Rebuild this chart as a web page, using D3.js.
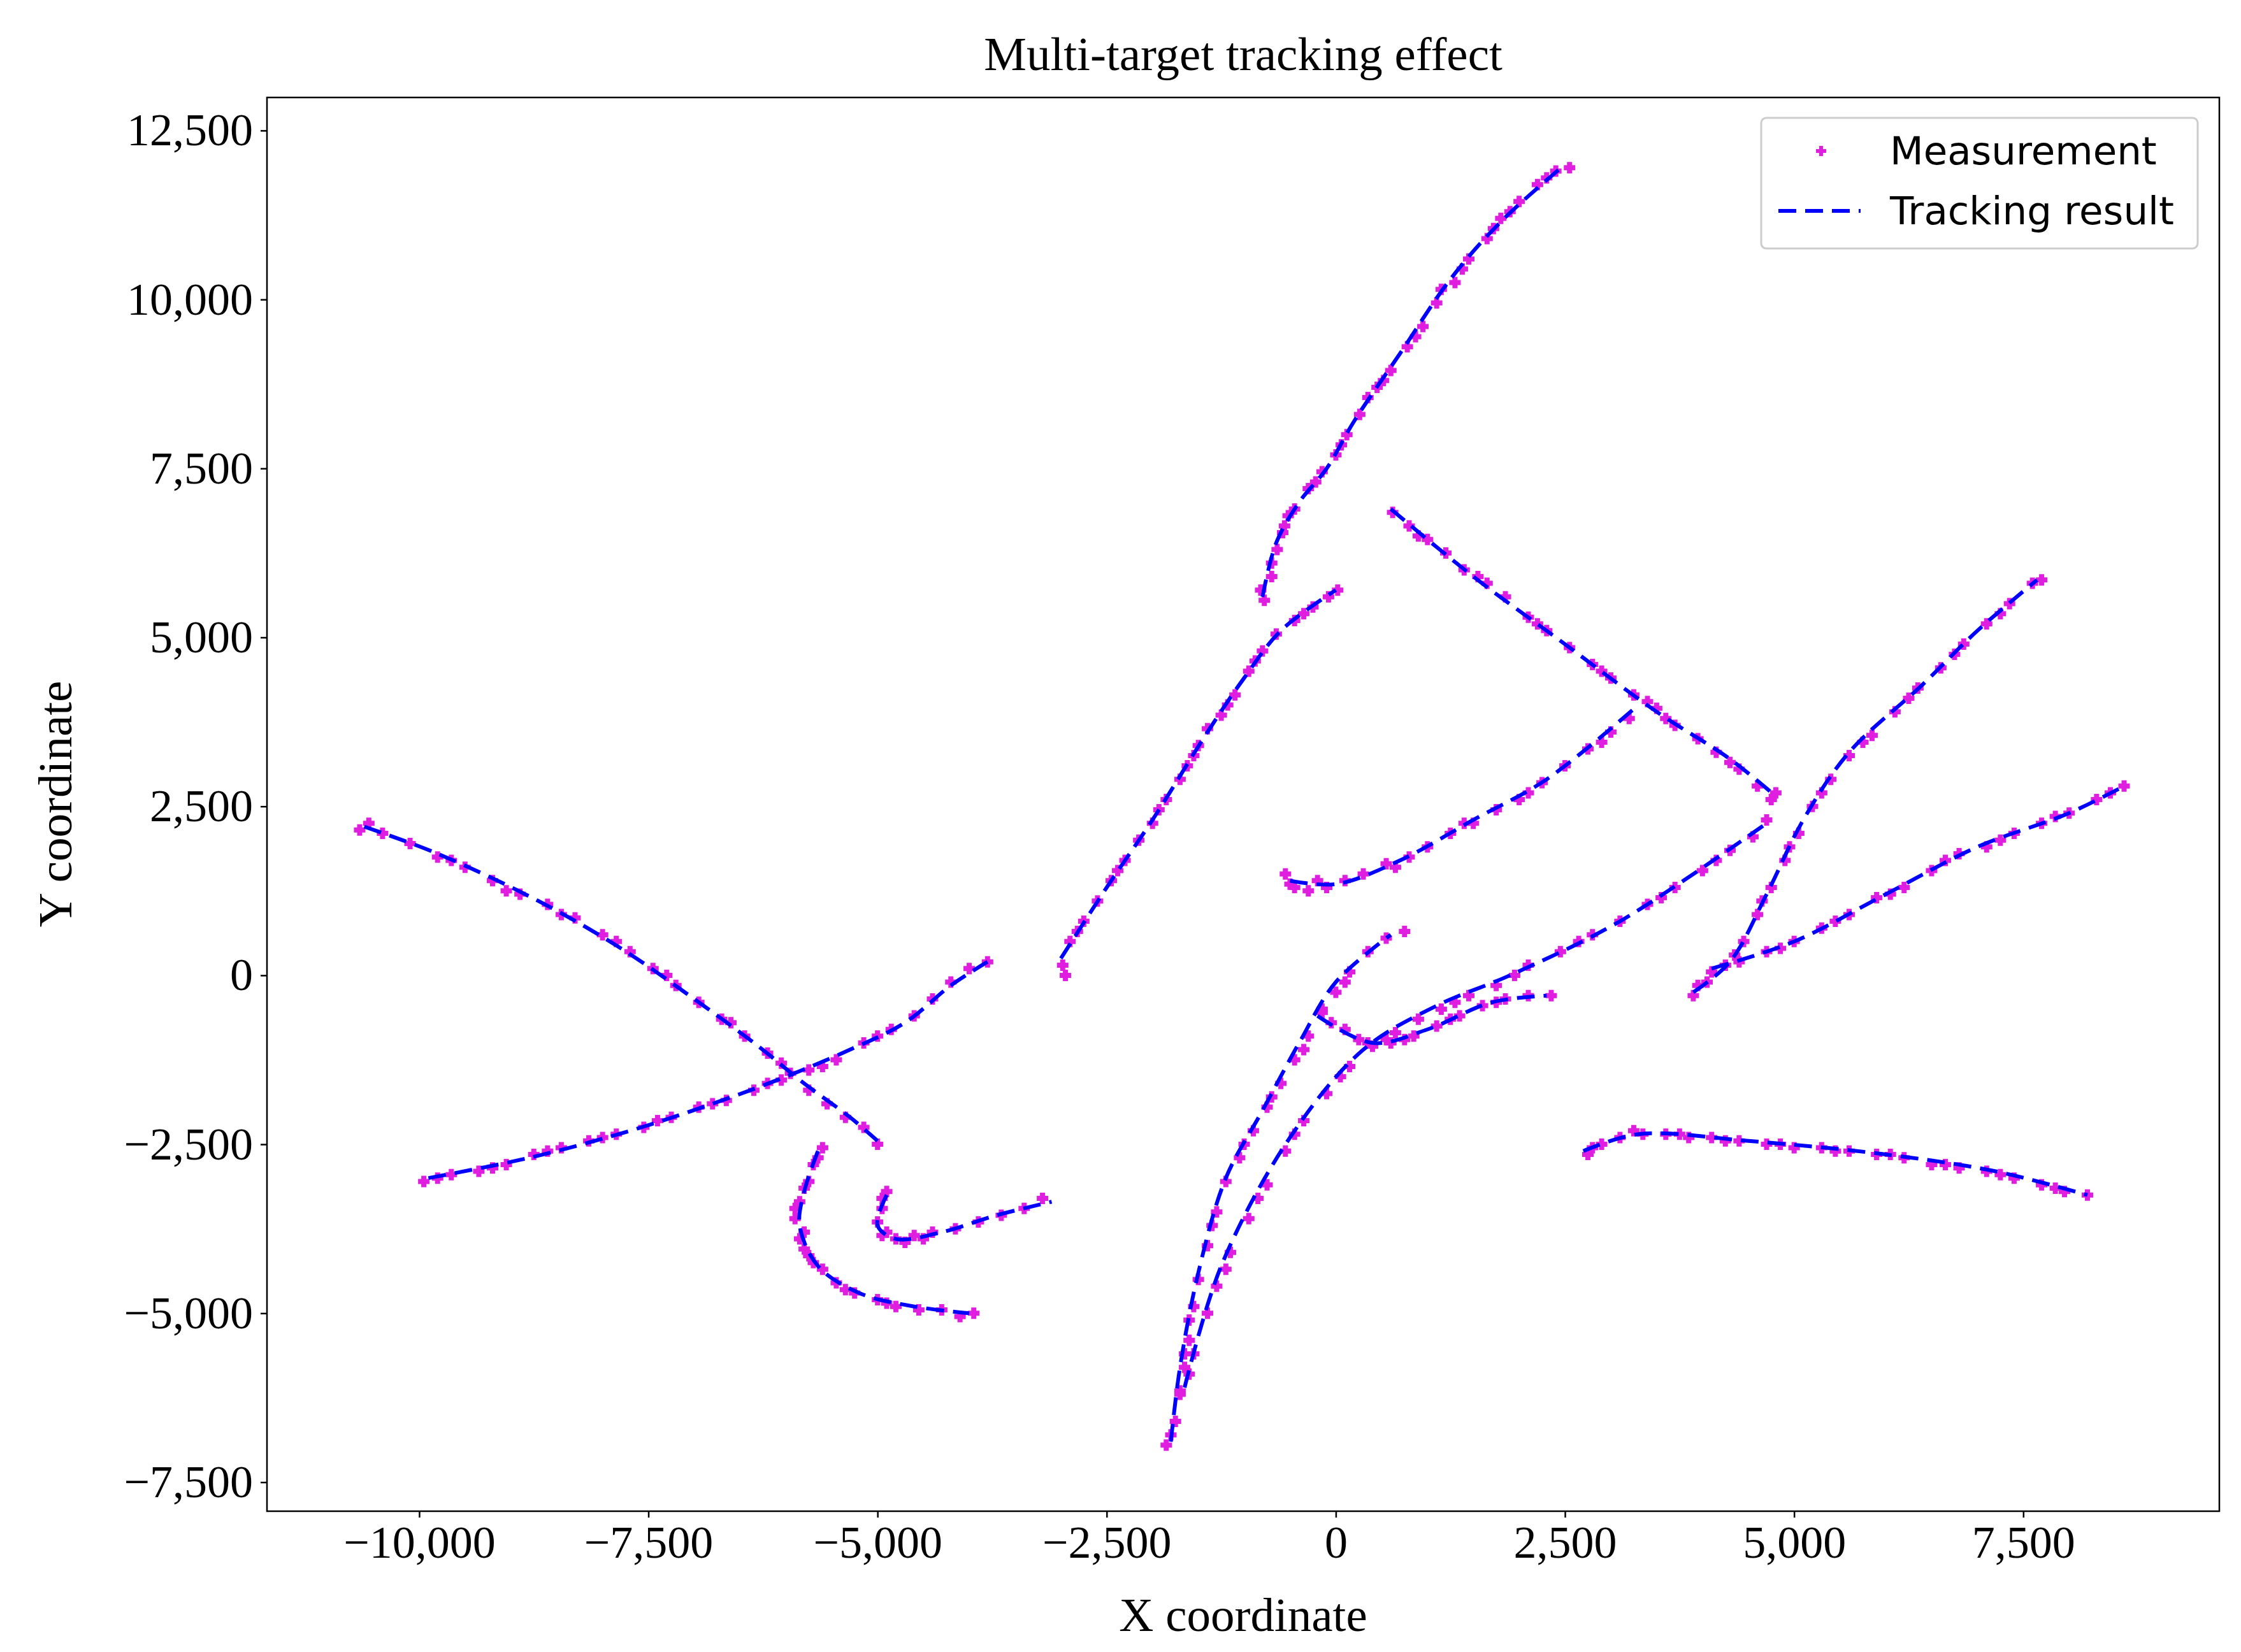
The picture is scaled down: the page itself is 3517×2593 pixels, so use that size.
<!DOCTYPE html>
<html><head><meta charset="utf-8">
<script src="https://cdn.jsdelivr.net/npm/d3@7"></script>
<style>body{margin:0;background:#fff}</style></head>
<body><svg id="c" width="3517" height="2593"></svg>
<script>
const xTicks=[-10000,-7500,-5000,-2500,0,2500,5000,7500];
const yTicks=[-7500,-5000,-2500,0,2500,5000,7500,10000,12500];
const tracks=[
[[-800,5600],[-650,6400],[-400,7000],[-100,7500],[200,8200],[700,9200],[1250,10300],[1800,11150],[2500,12000]],
[[-3000,250],[-2500,1300],[-2000,2300],[-1400,3600],[-1000,4400],[-600,5100],[0,5700]],
[[600,6900],[1500,5900],[2500,4900],[3500,3900],[4300,3200],[4800,2650]],
[[-500,1400],[0,1350],[700,1700],[1500,2300],[2300,2900],[3300,4000]],
[[-10600,2200],[-9800,1800],[-8700,1100],[-7800,400],[-7000,-350],[-6300,-1050],[-5800,-1600],[-5300,-2100],[-5000,-2450]],
[[-9900,-3000],[-8800,-2700],[-7700,-2300],[-6800,-1900],[-6000,-1500],[-5300,-1100],[-4700,-700],[-4200,-150],[-3800,200]],
[[-5650,-2600],[-5800,-3200],[-5850,-3700],[-5650,-4300],[-5200,-4700],[-4600,-4900],[-4000,-5000]],
[[-4900,-3250],[-5000,-3700],[-4800,-3900],[-4300,-3800],[-3700,-3550],[-3100,-3350]],
[[-1800,-6900],[-1700,-5800],[-1500,-4400],[-1200,-3000],[-800,-2000],[-400,-1000],[0,-100],[600,600]],
[[-1650,-6100],[-1250,-4300],[-500,-2400],[300,-1100],[1100,-450],[1900,0],[3100,800],[4700,2250]],
[[-200,-600],[400,-1000],[1000,-800],[1700,-400],[2300,-300]],
[[3900,-250],[4300,200],[4700,1200],[5100,2300],[5600,3300],[6400,4300],[7000,5100],[7650,5850]],
[[4100,100],[5000,500],[6000,1200],[7000,1900],[8000,2400],[8600,2800]],
[[2700,-2600],[3300,-2350],[4500,-2450],[6000,-2650],[7200,-2900],[8200,-3250]]
];
const meas=[
[-780,5550],[-700,5900],[-640,6300],[-560,6650],[-450,6900],[-300,7200],[-150,7450],[0,7700],[120,8000],[260,8300],[450,8700],[600,8950],[780,9300],[950,9600],[1100,9950],[1300,10250],[1450,10600],[1650,10900],[1800,11200],[2000,11450],[2200,11700],[2400,11900],[2550,11950],[-820,5700],[-580,6550],[350,8550],[1150,10150],[1900,11300],[-700,6100],[-520,6800],[-220,7300],[60,7850],[520,8800],[870,9450],[1380,10450],[1720,11050],[2300,11800],
[-2980,150],[-2900,500],[-2750,800],[-2600,1100],[-2450,1400],[-2300,1700],[-2150,2000],[-2000,2250],[-1850,2600],[-1700,2900],[-1550,3250],[-1400,3650],[-1250,3850],[-1100,4150],[-950,4500],[-800,4800],[-650,5050],[-450,5250],[-250,5450],[-80,5600],[20,5700],[-1500,3400],[-2950,0],[-2820,650],[-2380,1550],[-1930,2450],[-1620,3100],[-1180,4000],[-880,4650],[-350,5350],
[620,6850],[800,6650],[1000,6450],[1200,6250],[1400,6000],[1650,5800],[1850,5600],[2100,5300],[2300,5100],[2550,4850],[2800,4600],[3000,4400],[3250,4150],[3500,3950],[3700,3700],[3950,3500],[4150,3300],[4400,3050],[4600,2800],[4800,2700],[4750,2600],[900,6500],[1550,5900],[2200,5200],[2900,4500],[3600,3800],[4300,3150],
[-550,1500],[-450,1300],[-300,1250],[-100,1300],[100,1400],[300,1500],[550,1650],[800,1750],[1000,1900],[1250,2100],[1500,2250],[1750,2450],[2000,2600],[2250,2850],[2500,3100],[2750,3350],[3000,3600],[3200,3800],[3400,4050],[-500,1350],[-200,1400],[650,1600],[1400,2250],[2100,2700],[2900,3450],
[-10650,2150],[-10400,2100],[-10100,1950],[-9800,1750],[-9500,1600],[-9200,1400],[-8900,1200],[-8600,1050],[-8300,850],[-8000,600],[-7700,350],[-7450,100],[-7200,-150],[-6950,-400],[-6700,-650],[-6450,-900],[-6200,-1150],[-5950,-1450],[-5750,-1700],[-5550,-1900],[-5350,-2100],[-5150,-2250],[-5000,-2500],[-10550,2250],[-9650,1700],[-9050,1250],[-8450,900],[-7850,500],[-7300,0],[-6600,-700],[-6050,-1300],
[-9950,-3050],[-9650,-2950],[-9350,-2900],[-9050,-2800],[-8750,-2650],[-8450,-2550],[-8150,-2450],[-7850,-2350],[-7550,-2250],[-7250,-2100],[-6950,-1950],[-6650,-1850],[-6350,-1700],[-6050,-1550],[-5750,-1400],[-5450,-1250],[-5150,-1000],[-4850,-800],[-4600,-600],[-4400,-350],[-4200,-100],[-4000,100],[-3800,200],[-9800,-3000],[-9200,-2850],[-8600,-2600],[-8000,-2400],[-7400,-2150],[-6800,-1900],[-6200,-1600],[-5600,-1350],[-5000,-900],
[-5600,-2550],[-5700,-2800],[-5750,-3050],[-5850,-3350],[-5900,-3600],[-5850,-3900],[-5750,-4150],[-5600,-4350],[-5450,-4550],[-5250,-4700],[-5000,-4800],[-4800,-4900],[-4550,-4950],[-4300,-4950],[-4100,-5050],[-3950,-5000],[-5800,-3800],[-5700,-4250],[-5650,-2700],[-5800,-3150],[-5900,-3450],[-5800,-4050],[-5350,-4650],[-4900,-4850],
[-4900,-3200],[-4950,-3450],[-5000,-3650],[-4950,-3850],[-4800,-3900],[-4600,-3850],[-4400,-3800],[-4150,-3750],[-3900,-3650],[-3650,-3550],[-3400,-3450],[-3200,-3300],[-4950,-3300],[-4900,-3800],[-4700,-3950],[-4500,-3900],
[-1850,-6950],[-1750,-6600],[-1700,-6200],[-1650,-5800],[-1600,-5400],[-1550,-4900],[-1500,-4500],[-1400,-4000],[-1300,-3500],[-1200,-3050],[-1050,-2700],[-900,-2300],[-750,-1950],[-600,-1600],[-450,-1250],[-300,-900],[-150,-550],[0,-250],[150,50],[350,350],[550,550],[750,650],[-1800,-6800],[-1650,-5600],[-1600,-5100],[-1350,-3700],[-1000,-2500],[-700,-1800],[-350,-1100],[100,-100],
[-1700,-6150],[-1550,-5600],[-1400,-5000],[-1300,-4600],[-1150,-4100],[-950,-3600],[-750,-3100],[-550,-2600],[-350,-2150],[-100,-1750],[150,-1350],[400,-1050],[650,-850],[900,-650],[1150,-500],[1450,-300],[1750,-150],[2100,150],[2450,350],[2800,600],[3100,800],[3400,1050],[3700,1300],[4000,1550],[4300,1850],[4550,2050],[4700,2300],[-1600,-5900],[-1200,-4350],[-850,-3300],[-450,-2350],[50,-1500],[550,-950],[1300,-400],[1950,0],[2650,500],[3550,1150],[4150,1700],
[-150,-500],[100,-800],[350,-1000],[600,-1000],[850,-900],[1100,-750],[1350,-600],[1600,-450],[1850,-350],[2100,-300],[2350,-300],[-50,-700],[250,-950],[750,-950],[1250,-650],[1750,-400],
[3900,-300],[4050,-100],[4250,150],[4450,500],[4600,900],[4750,1300],[4900,1700],[5050,2100],[5200,2500],[5400,2900],[5600,3250],[5850,3550],[6100,3900],[6350,4250],[6600,4550],[6850,4900],[7100,5200],[7350,5500],[7600,5800],[7700,5850],[3950,-150],[4350,300],[4650,1100],[4950,1900],[5300,2700],[5750,3450],[6250,4100],[6750,4750],[7250,5350],
[4100,50],[4400,200],[4700,350],[5000,500],[5300,700],[5600,900],[5900,1150],[6200,1300],[6500,1550],[6800,1800],[7100,1900],[7400,2100],[7700,2250],[8000,2400],[8300,2600],[8600,2800],[4250,150],[4850,400],[5450,800],[6050,1200],[6650,1700],[7250,2000],[7850,2350],[8450,2700],
[2750,-2650],[2900,-2500],[3100,-2400],[3350,-2350],[3600,-2350],[3850,-2400],[4100,-2400],[4400,-2450],[4700,-2500],[5000,-2550],[5300,-2550],[5600,-2600],[5900,-2650],[6200,-2700],[6500,-2800],[6800,-2850],[7100,-2900],[7400,-3000],[7700,-3100],[7950,-3200],[8200,-3250],[2800,-2550],[3250,-2300],[3750,-2350],[4250,-2450],[4850,-2500],[5450,-2600],[6050,-2650],[6650,-2800],[7250,-2950],[7850,-3150]
];
const svg=d3.select("#c");
const L=419,R=3483,T=153,B=2372;
const x=d3.scaleLinear().domain([-11661,9639]).range([L,R]);
const y=d3.scaleLinear().domain([-7929,12989]).range([B,T]);
const fmt=d3.format(",");
const serif="Liberation Serif, Times New Roman, serif";
const gx=svg.append("g").attr("transform",`translate(0,${B})`).call(d3.axisBottom(x).tickValues(xTicks).tickFormat(fmt).tickSize(10).tickPadding(12));
const gy=svg.append("g").attr("transform",`translate(${L},0)`).call(d3.axisLeft(y).tickValues(yTicks).tickFormat(fmt).tickSize(10).tickPadding(12));
[gx,gy].forEach(g=>{g.select(".domain").remove();g.selectAll("line").attr("stroke","#000").attr("stroke-width",2.5);g.selectAll("text").attr("font-family",serif).attr("font-size",72).attr("fill","#000");});
const pg=svg.append("g");
const s=9;
meas.forEach(p=>{pg.append("path").attr("d",`M${x(p[0])-s},${y(p[1])}h${2*s}M${x(p[0])},${y(p[1])-s}v${2*s}`).attr("stroke","#e01ee0").attr("stroke-width",8);});
const line=d3.line().x(d=>x(d[0])).y(d=>y(d[1])).curve(d3.curveCatmullRom);
tracks.forEach(t=>svg.append("path").attr("d",line(t)).attr("fill","none").attr("stroke","#0000ff").attr("stroke-width",6).attr("stroke-dasharray","28,14"));
svg.append("rect").attr("x",L).attr("y",T).attr("width",R-L).attr("height",B-T).attr("fill","none").attr("stroke","#000").attr("stroke-width",2.5);
svg.append("text").attr("x",(L+R)/2).attr("y",110).attr("text-anchor","middle").attr("font-family",serif).attr("font-size",75).text("Multi-target tracking effect");
svg.append("text").attr("x",(L+R)/2).attr("y",2560).attr("text-anchor","middle").attr("font-family",serif).attr("font-size",75).text("X coordinate");
svg.append("text").attr("transform","translate(112,1262) rotate(-90)").attr("text-anchor","middle").attr("font-family",serif).attr("font-size",75).text("Y coordinate");
const lg=svg.append("g");
lg.append("rect").attr("x",2764).attr("y",185).attr("width",685).attr("height",205).attr("rx",8).attr("fill","#fff").attr("stroke","#ccc").attr("stroke-width",3);
lg.append("path").attr("d",`M2850,237h16M2858,229v16`).attr("stroke","#e01ee0").attr("stroke-width",6);
lg.append("line").attr("x1",2791).attr("x2",2920).attr("y1",331).attr("y2",331).attr("stroke","#0000ff").attr("stroke-width",6).attr("stroke-dasharray","28,14");
[["Measurement",237],["Tracking result",331]].forEach(d=>lg.append("text").attr("x",2966).attr("y",d[1]).attr("dy","0.35em").attr("font-family","DejaVu Sans").attr("font-size",61).text(d[0]));
</script></body></html>
